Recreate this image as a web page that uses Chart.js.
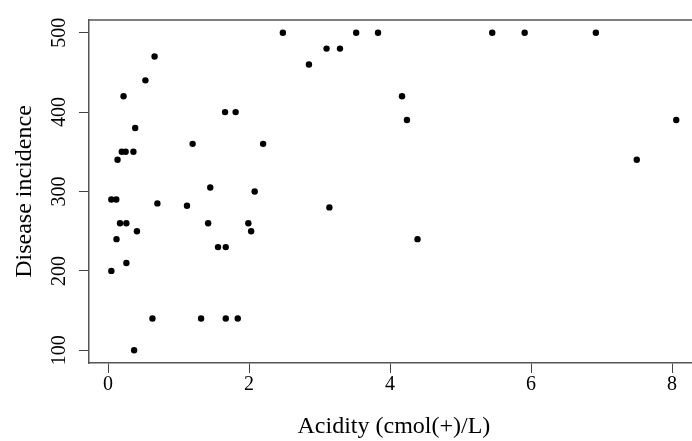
<!DOCTYPE html>
<html><head><meta charset="utf-8">
<script src="https://cdn.jsdelivr.net/npm/chart.js@4.4.1/dist/chart.umd.min.js"></script>
<style>html,body{margin:0;padding:0;overflow:hidden;background:#fff}#wrap{width:702px;height:441px;position:relative}</style>
</head><body><div id="wrap"><canvas id="c"></canvas></div>
<script>
const acidity = [2.48,3.52,3.83,5.45,5.91,6.92,3.10,3.29,0.66,2.85,0.53,0.22,4.17,1.66,1.81,4.24,8.06,0.385,1.20,2.20,0.195,0.25,0.36,0.135,7.50,1.45,2.08,0.047,0.117,0.70,1.12,3.14,0.17,0.26,1.42,1.99,0.41,2.03,0.12,4.39,1.56,1.67,0.26,0.047,0.63,1.32,1.67,1.84,0.37];
const incidence = [500,500,500,500,500,500,480,480,470,460,440,420,420,400,400,390,390,380,360,360,350,350,350,340,340,305,300,290,290,285,282,280,260,260,260,260,250,250,240,240,230,230,210,200,140,140,140,140,100];
const xTicks = [0,2,4,6,8];
const yTicks = [100,200,300,400,500];
const xTitle = 'Acidity (cmol(+)/L)';
const yTitle = 'Disease incidence';

const points = acidity.map((a,i)=>({x:a,y:incidence[i]}));
Chart.defaults.font.family = "'Liberation Serif', serif";
Chart.defaults.color = '#000';

const topBorder = {
  id:'topBorder',
  afterDraw(chart){
    const {ctx, chartArea:a} = chart;
    ctx.save();
    ctx.strokeStyle = '#555'; ctx.lineWidth = 1.5;
    ctx.beginPath(); ctx.moveTo(a.left, a.top); ctx.lineTo(a.right, a.top); ctx.stroke();
    ctx.restore();
  }
};

new Chart(document.getElementById('c'), {
  type:'scatter',
  data:{datasets:[{data:points, backgroundColor:'#000', borderColor:'#000', borderWidth:0, pointRadius:3.2, pointHoverRadius:3.2}]},
  options:{
    animation:false, responsive:true, maintainAspectRatio:false, devicePixelRatio:1,
    layout:{padding:{top:20,right:0,left:0,bottom:0}},
    plugins:{legend:{display:false}, tooltip:{enabled:false}},
    scales:{
      x:{type:'linear', min:-0.27, max:8.38,
        afterBuildTicks:s=>{s.ticks = xTicks.map(v=>({value:v}));},
        afterFit:s=>{s.height = 78;},
        ticks:{font:{size:20}, color:'#000', padding:0, maxRotation:0},
        grid:{drawOnChartArea:false, drawTicks:true, tickLength:10, color:'#444', lineWidth:1},
        border:{display:true, color:'#555', width:1.5},
        title:{display:true, text:xTitle, font:{size:24}, color:'#000', padding:{top:0,bottom:0}}
      },
      y:{type:'linear', min:84, max:516,
        afterBuildTicks:s=>{s.ticks = yTicks.map(v=>({value:v}));},
        afterFit:s=>{s.width = 89;},
        ticks:{font:{size:20}, color:'#000', padding:4, minRotation:90, maxRotation:90, crossAlign:'center'},
        grid:{drawOnChartArea:false, drawTicks:true, tickLength:10, color:'#444', lineWidth:1},
        border:{display:true, color:'#555', width:1.5},
        title:{display:true, text:yTitle, font:{size:24}, color:'#000', padding:{top:10,bottom:0}}
      }
    }
  },
  plugins:[topBorder]
});
</script></body></html>
